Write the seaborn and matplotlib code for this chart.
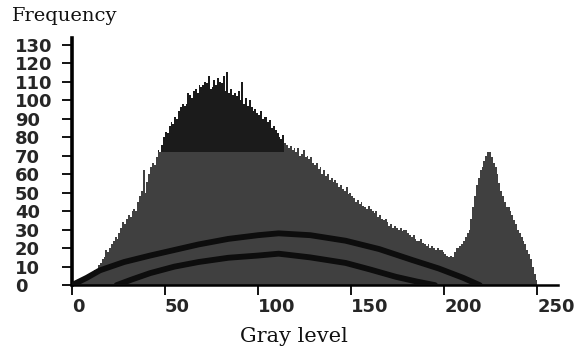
import numpy as np
import pandas as pd
import matplotlib
matplotlib.use("Agg")
import matplotlib.pyplot as plt
import seaborn as sns

# ---------------- data ----------------
gray_levels = list(range(0, 250))
frequency = [
    0, 1, 1, 2, 3, 3, 4, 4, 5, 6,
    6, 7, 8, 9, 11, 12, 14, 15, 19, 18,
    20, 22, 24, 26, 25, 28, 31, 34, 33, 36,
    38, 37, 40, 41, 40, 45, 48, 51, 62, 50,
    56, 60, 64, 66, 65, 69, 73, 72, 76, 80,
    83, 82, 86, 88, 87, 91, 90, 94, 96, 98,
    97, 98, 104, 103, 101, 105, 106, 104, 108, 107,
    108, 110, 109, 113, 106, 107, 111, 108, 112, 110,
    109, 113, 105, 115, 104, 106, 103, 104, 102, 105,
    100, 110, 98, 101, 97, 100, 96, 94, 95, 93,
    92, 94, 90, 91, 91, 88, 89, 85, 86, 84,
    82, 80, 79, 81, 77, 76, 74, 75, 73, 74,
    72, 74, 70, 71, 73, 69, 70, 68, 69, 66,
    65, 66, 63, 64, 60, 62, 59, 60, 57, 58,
    56, 57, 55, 53, 54, 52, 51, 53, 49, 50,
    48, 47, 45, 46, 44, 45, 43, 42, 41, 43,
    41, 40, 39, 40, 37, 38, 36, 35, 36, 34,
    32, 33, 31, 32, 31, 30, 31, 29, 30, 30,
    28, 27, 26, 27, 25, 24, 24, 25, 23, 22,
    21, 22, 20, 21, 20, 19, 20, 19, 19, 18,
    17, 16, 15, 16, 15, 18, 20, 20, 21, 22,
    24, 26, 28, 30, 36, 42, 48, 54, 58, 62,
    64, 67, 70, 72, 72, 69, 66, 64, 60, 55,
    51, 48, 45, 42, 42, 40, 38, 35, 33, 30,
    28, 26, 24, 22, 19, 17, 14, 10, 6, 3,
]

upper_curve_x = [0, 8, 15, 28, 42, 55, 68, 84, 100, 111, 128, 147, 165, 183, 197, 210, 219]
upper_curve_y = [0, 4, 8, 12.5, 16, 19, 22, 25, 27, 28, 27, 24, 19.5, 13.5, 9, 4, 0]
lower_curve_x = [24, 32, 42, 55, 68, 84, 100, 111, 128, 147, 160, 174, 185, 195]
lower_curve_y = [0, 3, 6.5, 10, 12.5, 14.8, 16, 17, 15, 12, 8.5, 4.5, 2, 0]

y_ticks = list(range(0, 131, 10))
x_ticks = [0, 50, 100, 150, 200, 250]

# ---------------- figure ----------------
sns.set_theme(style="white")
plt.rcParams["font.family"] = ["DejaVu Sans"]

fig = plt.figure(figsize=(5.8, 3.56), dpi=100)
fig.patch.set_facecolor("white")
ax = fig.add_axes([0.124, 0.199, 0.838, 0.694])
ax.set_facecolor("white")

df = pd.DataFrame({"gray": gray_levels, "freq": frequency})
sns.histplot(data=df, x="gray", weights="freq", binwidth=1, binrange=(0, 250),
             color="#404040", alpha=1, linewidth=0, edgecolor="none", ax=ax, zorder=1)

# darker patch of the scan above ~72 in the main peak
g = np.array(gray_levels)
f = np.array(frequency, dtype=float)
mask = (g >= 45) & (g <= 113)
ax.bar(g[mask], np.clip(f[mask] - 72, 0, None), bottom=72, width=1, align="edge",
       color="#1b1b1b", linewidth=0, zorder=2)

sns.lineplot(x=upper_curve_x, y=upper_curve_y, color="#0d0d0d", linewidth=4.2,
             ax=ax, zorder=3, sort=False)
sns.lineplot(x=lower_curve_x, y=lower_curve_y, color="#0d0d0d", linewidth=4.2,
             ax=ax, zorder=3, sort=False)

ax.set_xlim(0, 261)
ax.set_ylim(0, 133.5)
ax.set_xlabel("")
ax.set_ylabel("")

for s in ["top", "right"]:
    ax.spines[s].set_visible(False)
ax.spines["left"].set_linewidth(2.6)
ax.spines["left"].set_color("black")
ax.spines["bottom"].set_linewidth(1.8)
ax.spines["bottom"].set_color("black")

ax.set_yticks(y_ticks)
ax.set_xticks(x_ticks)
ax.set_yticklabels([str(v) for v in y_ticks])
ax.set_xticklabels([str(v) for v in x_ticks])
ax.tick_params(axis="y", which="both", left=True, direction="out", length=7,
               width=1.3, color="black", pad=34, labelsize=13)
ax.tick_params(axis="x", which="both", bottom=True, direction="out", length=7,
               width=1.3, color="black", pad=2, labelsize=13)
for lab in ax.yaxis.get_majorticklabels():
    lab.set_horizontalalignment("left")
    lab.set_fontweight("bold")
for lab in ax.xaxis.get_majorticklabels():
    lab.set_horizontalalignment("left")
    lab.set_fontweight("bold")

fig.text(12 / 580, 1 - 16 / 356, "Frequency", family="DejaVu Serif", fontsize=14,
         ha="left", va="center", color="#111111")
fig.text(294 / 580, 1 - 337 / 356, "Gray level", family="DejaVu Serif", fontsize=15,
         ha="center", va="center", color="#111111")

fig.savefig("out.png", dpi=100, facecolor="white")
